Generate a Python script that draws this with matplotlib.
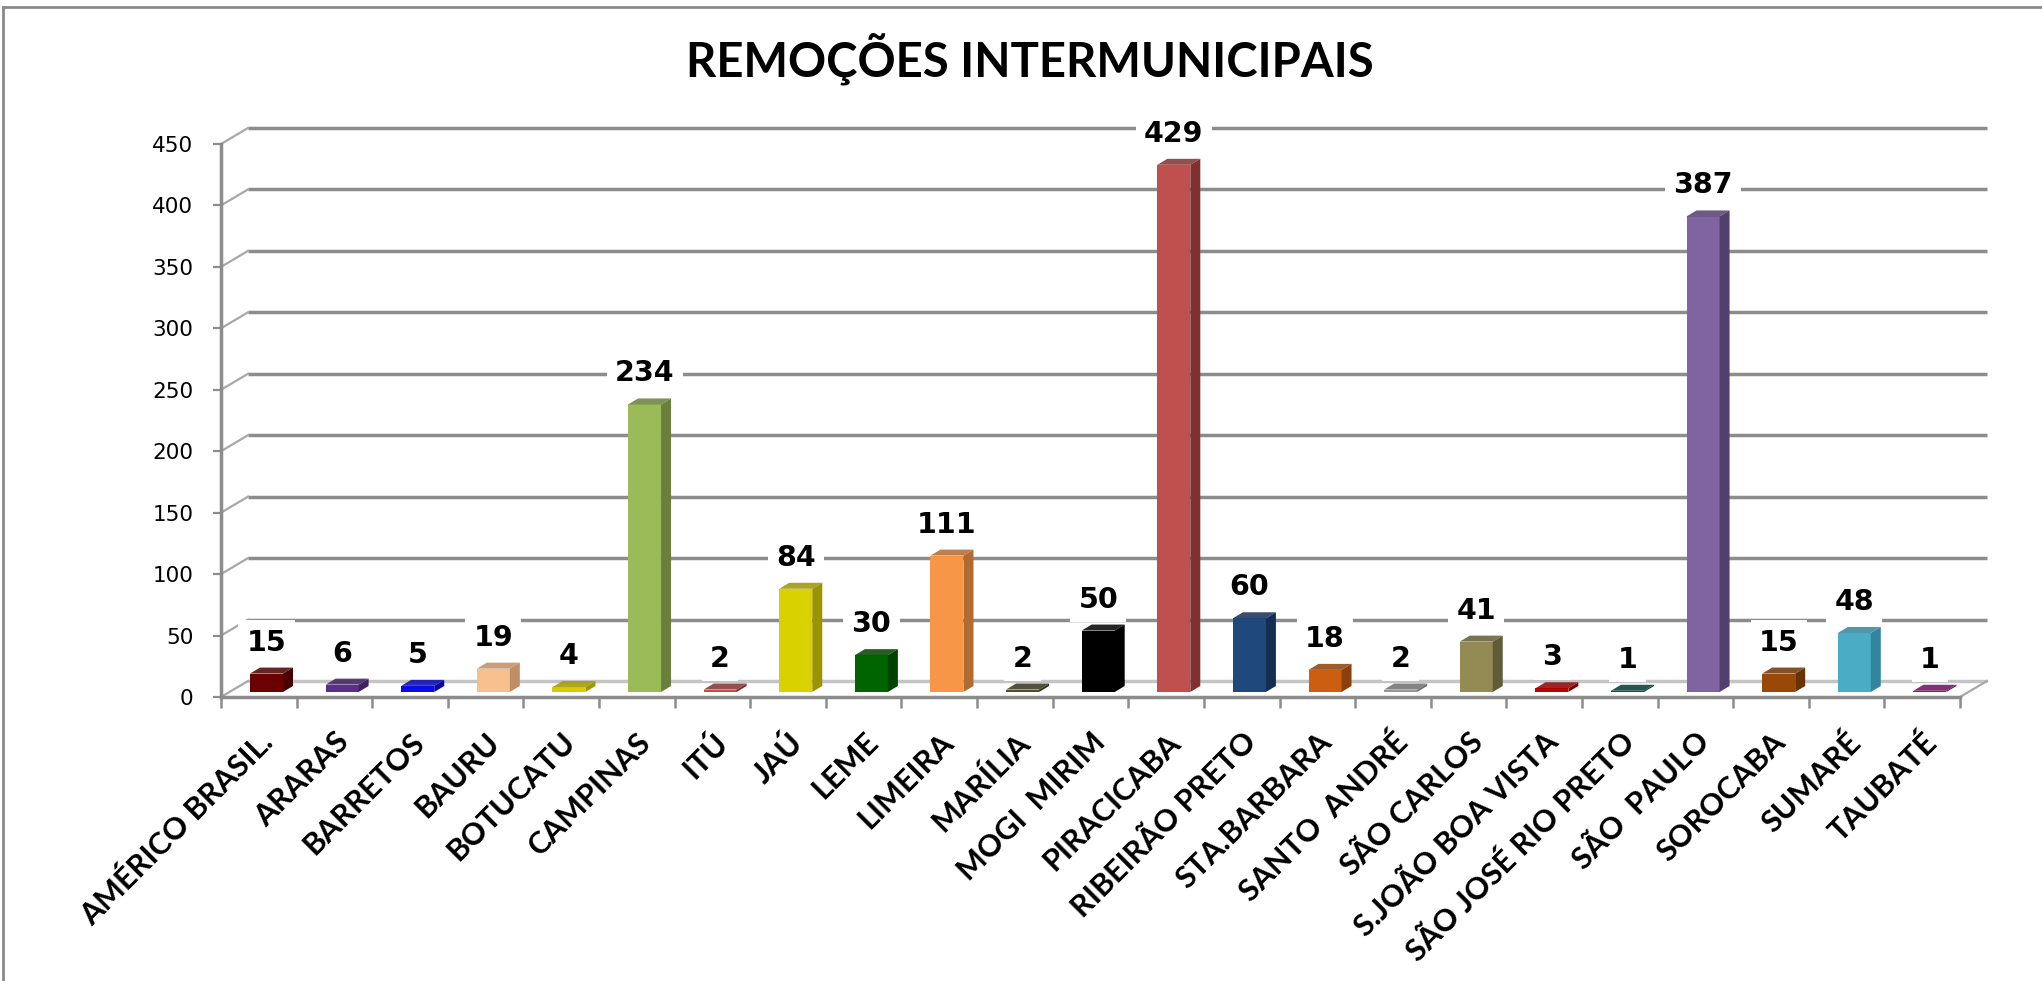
import numpy as np
import matplotlib
matplotlib.use('Agg')
import matplotlib.pyplot as plt
from matplotlib.patches import Polygon
from matplotlib.lines import Line2D

# Remoções por município
municipios = ['AMÉRICO BRASIL.', 'ARARAS', 'BARRETOS', 'BAURU', 'BOTUCATU',
              'CAMPINAS', 'ITÚ', 'JAÚ', 'LEME', 'LIMEIRA', 'MARÍLIA',
              'MOGI  MIRIM', 'PIRACICABA', 'RIBEIRÃO PRETO', 'STA.BARBARA',
              'SANTO  ANDRÉ', 'SÃO CARLOS', 'S.JOÃO BOA VISTA',
              'SÃO JOSÉ RIO PRETO', 'SÃO  PAULO', 'SOROCABA', 'SUMARÉ',
              'TAUBATÉ']
remocoes = [15, 6, 5, 19, 4, 234, 2, 84, 30, 111, 2, 50, 429, 60, 18, 2, 41,
            3, 1, 387, 15, 48, 1]
cor_frente = ['#6b0000', '#5b2d8c', '#0a0af0', '#f9c08f', '#d6cc00',
              '#9bbb59', '#c0504d', '#d9d200', '#006400', '#f79646',
              '#4f4f2c', '#000000', '#c0504d', '#1f497d', '#cc5f0f',
              '#969696', '#948a54', '#c00000', '#00594d', '#8064a2',
              '#984807', '#4bacc6', '#9b1085']
cor_lado = ['#480000', '#40205f', '#0606a8', '#c08e64', '#a09800',
            '#6a7f3d', '#83302e', '#9a9400', '#004200', '#b06a32',
            '#33331c', '#000000', '#7f302f', '#152f52', '#8b3f0a',
            '#6e6e6e', '#625b37', '#880000', '#003a32', '#533f6c',
            '#6b3205', '#31859c', '#6d0b5d']
yticks = np.arange(0, 451, 50)

W, H = 2042, 981
n = len(municipios)
x0, y0, x1, y1 = 221, 697, 1960, 144          # caixa do plano frontal (px)
pxx = (x1 - x0) / n
pxy = (y0 - y1) / 450

# profundidade da parede e das barras, em unidades de dados
dxw, dyw = 27 / pxx, 16 / pxy
boff, bw = 29 / pxx, 33 / pxx
base = 5 / pxy
sx, sy = 10 / pxx, 6 / pxy

cinza = '#8c8c8c'
plt.rcParams['font.family'] = ['DejaVu Sans']

fig = plt.figure(figsize=(W / 100, H / 100), dpi=100)
ax = fig.add_axes([x0 / W, 1 - y0 / H, (x1 - x0) / W, (y0 - y1) / H])
ax.set_xlim(0, n)
ax.set_ylim(0, 450)
ax.patch.set_alpha(0)

# parede do fundo e parede lateral
for v in yticks:
    c = '#c4c4c4' if v == 0 else cinza
    ax.plot([dxw, n + dxw], [v + dyw, v + dyw], color=c, lw=2.5,
            clip_on=False, zorder=1, solid_capstyle='butt')
    ax.plot([0, dxw], [v, v + dyw], color='#a8a8a8', lw=1.6,
            clip_on=False, zorder=1)
ax.plot([n, n + dxw], [0, dyw], color='#a8a8a8', lw=1.6, clip_on=False,
        zorder=1)

# barras 3D: frente, lateral e topo
xl = np.arange(n) + boff
ax.bar(xl, remocoes, width=bw, bottom=base, align='edge', color=cor_frente,
       zorder=3, linewidth=0)
for i, v in enumerate(remocoes):
    a, b = xl[i], xl[i] + bw
    lado = Polygon([(b, base), (b + sx, base + sy), (b + sx, base + v + sy),
                    (b, base + v)], closed=True, fc=cor_lado[i], ec='none',
                   zorder=3)
    topo = Polygon([(a, base + v), (a + sx, base + v + sy),
                    (b + sx, base + v + sy), (b, base + v)], closed=True,
                   fc=cor_lado[i], ec='none', zorder=3, alpha=0.85)
    ax.add_patch(lado)
    ax.add_patch(topo)
    ax.text(a + bw / 2, base + v + 31 / pxy, str(v), ha='center',
            va='center', fontsize=20.5, fontweight='bold', color='black',
            zorder=6, bbox=dict(fc='white', ec='none', pad=6))

# eixos
for s in ['top', 'right']:
    ax.spines[s].set_visible(False)
for s in ['left', 'bottom']:
    ax.spines[s].set_color(cinza)
    ax.spines[s].set_linewidth(2.5)
    ax.spines[s].set_zorder(2)
ax.set_yticks(yticks)
ax.tick_params(axis='y', length=6, width=1.6, color=cinza, pad=14,
               labelsize=15.5, labelcolor='black')
ax.set_xticks(np.arange(n + 1))
ax.set_xticklabels([])
ax.tick_params(axis='x', which='major', length=8, width=1.8, color=cinza)
ax.set_xticks(np.arange(n) + 0.5, minor=True)
ax.set_xticklabels(municipios, minor=True, rotation=45, ha='right',
                   rotation_mode='anchor', fontsize=22, fontweight='bold',
                   family=['Lato', 'DejaVu Sans'])
ax.tick_params(axis='x', which='minor', length=0, pad=22)

fig.text(1030 / W, 1 - 59 / H, 'REMOÇÕES INTERMUNICIPAIS', ha='center',
         va='center', fontsize=34, fontweight='bold',
         family=['Lato', 'DejaVu Sans'])

# moldura
fig.add_artist(Line2D([3 / W, 1], [1 - 7 / H, 1 - 7 / H], color='#8a8a8a',
                      lw=2, transform=fig.transFigure))
fig.add_artist(Line2D([3 / W, 3 / W], [0, 1 - 7 / H], color='#8a8a8a',
                      lw=2, transform=fig.transFigure))

fig.savefig('out.png', dpi=100)
